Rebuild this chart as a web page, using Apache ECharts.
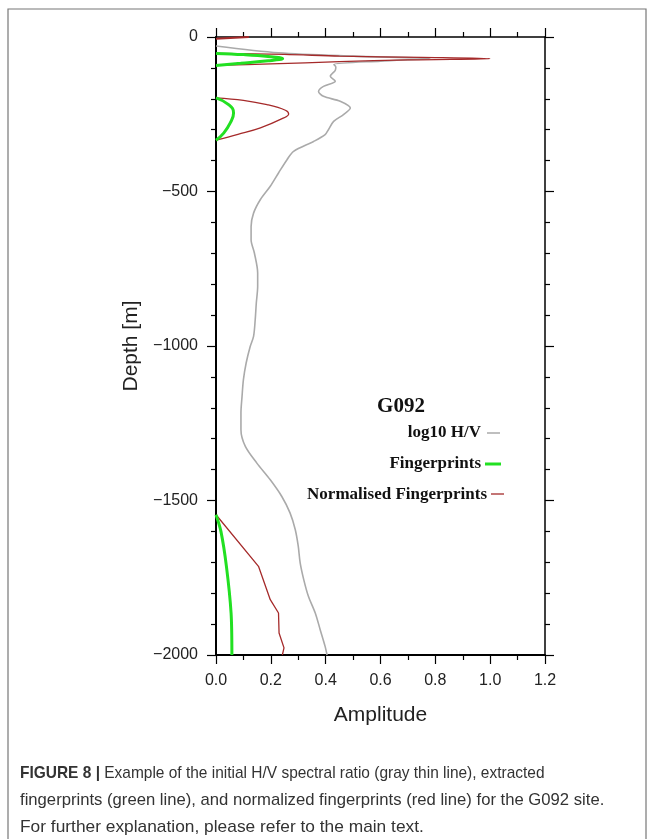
<!DOCTYPE html>
<html>
<head>
<meta charset="utf-8">
<script src="https://cdn.jsdelivr.net/npm/echarts@6/dist/echarts.min.js"></script>
<style>html,body{margin:0;padding:0;background:#fff;}#c{width:654px;height:839px;}</style>
</head>
<body>
<div id="c"></div>
<script>
// ---- data (amplitude, depth [m]) ----
const xTicks = [0, 0.2, 0.4, 0.6, 0.8, 1.0, 1.2];
const yTicks = [0, -500, -1000, -1500, -2000];

const grayDepth = [-29, -51, -62, -70, -78, -89, -97, -108, -127, -143, -160, -176, -192, -208, -230, -251, -273, -300, -316, -338, -370, -397, -440, -483, -526, -570, -613, -656, -699, -764, -807, -861, -915, -969, -1001, -1055, -1109, -1163, -1217, -1271, -1325, -1379, -1433, -1487, -1540, -1594, -1648, -1702, -1756, -1810, -1864, -1918, -1972, -2000];
const grayAmp   = [0, 0.228, 0.50, 0.78, 0.60, 0.43, 0.437, 0.435, 0.417, 0.435, 0.392, 0.374, 0.392, 0.453, 0.49, 0.465, 0.429, 0.41, 0.398, 0.356, 0.283, 0.259, 0.228, 0.198, 0.162, 0.137, 0.128, 0.128, 0.14, 0.152, 0.152, 0.147, 0.143, 0.137, 0.125, 0.11, 0.10, 0.095, 0.091, 0.091, 0.107, 0.149, 0.198, 0.24, 0.27, 0.289, 0.30, 0.307, 0.32, 0.337, 0.362, 0.38, 0.398, 0.405];

const greenTopDepth = [-53, -57, -63, -70, -77, -85, -92];
const greenTopAmp   = [0, 0.10, 0.19, 0.243, 0.19, 0.09, 0];
const greenMidDepth = [-197, -219, -246, -278, -311, -334];
const greenMidAmp   = [0, 0.046, 0.064, 0.052, 0.028, 0];
const greenLowDepth = [-1546, -1600, -1713, -1864, -2000];
const greenLowAmp   = [0, 0.018, 0.038, 0.055, 0.058];

const redSurfDepth = [0, -6];
const redSurfAmp   = [0.12, 0];
const redTopDepth = [-53, -56, -62, -66, -70, -74, -80, -87, -92];
const redTopAmp   = [0, 0.25, 0.45, 0.75, 1.0, 0.70, 0.45, 0.20, 0];
const redMidDepth = [-197, -205, -219, -237, -249, -262, -294, -315, -334];
const redMidAmp   = [0, 0.10, 0.186, 0.253, 0.265, 0.247, 0.162, 0.08, 0];
const redLowDepth = [-1546, -1713, -1821, -1864, -1929, -1977, -2000];
const redLowAmp   = [0, 0.155, 0.198, 0.228, 0.23, 0.248, 0.242];

const legendLabels = ['log10 H/V', 'Fingerprints', 'Normalised Fingerprints'];
const siteName = 'G092';

function pairs(a, d) { return a.map((v, i) => [v, d[i]]); }

const GRAY = '#aaaaaa', GREEN = '#22e022', RED = '#a52a2a';
const sans = "'Liberation Sans', Arial, Helvetica, sans-serif";
const serif = "'Liberation Serif', 'Times New Roman', serif";
const capFont = "17px 'Liberation Sans', Arial, sans-serif";

function lineSeries(data, color, width, smooth) {
  return { type: 'line', data: data, symbol: 'none', smooth: smooth, silent: true,
    lineStyle: { color: color, width: width }, z: 2 };
}

const tickStyle = { color: '#000', width: 1.2 };
const chart = echarts.init(document.getElementById('c'), null, { renderer: 'canvas' });
chart.setOption({
  animation: false,
  backgroundColor: '#fff',
  grid: { left: 216, top: 37, width: 329, height: 618, containLabel: false },
  xAxis: [
    { type: 'value', min: 0, max: 1.2, interval: 0.2, position: 'bottom',
      axisLine: { show: true, onZero: false, lineStyle: { color: '#000', width: 2 } },
      axisTick: { show: true, length: 9, lineStyle: tickStyle },
      minorTick: { show: true, splitNumber: 2, length: 5, lineStyle: tickStyle },
      splitLine: { show: false }, minorSplitLine: { show: false },
      axisLabel: { fontSize: 16, color: '#222', margin: 18, fontFamily: sans,
        formatter: v => v.toFixed(1) },
      name: 'Amplitude', nameLocation: 'middle', nameGap: 50,
      nameTextStyle: { fontSize: 21, color: '#222', fontFamily: sans } },
    { type: 'value', min: 0, max: 1.2, interval: 0.2, position: 'top',
      axisLine: { show: true, onZero: false, lineStyle: { color: '#000', width: 1.5 } },
      axisTick: { show: true, length: 9, lineStyle: tickStyle },
      minorTick: { show: true, splitNumber: 2, length: 5, lineStyle: tickStyle },
      splitLine: { show: false }, axisLabel: { show: false } }
  ],
  yAxis: [
    { type: 'value', min: -2000, max: 0, interval: 500, position: 'left',
      axisLine: { show: true, onZero: false, lineStyle: { color: '#000', width: 2 } },
      axisTick: { show: true, length: 9, lineStyle: tickStyle },
      minorTick: { show: true, splitNumber: 5, length: 5, lineStyle: tickStyle },
      splitLine: { show: false }, minorSplitLine: { show: false },
      axisLabel: { fontSize: 16, color: '#222', margin: 18, fontFamily: sans,
        formatter: v => String(v).replace('-', '\u2212') },
      name: 'Depth [m]', nameLocation: 'middle', nameGap: 72, nameRotate: 90,
      nameTextStyle: { fontSize: 21, color: '#222', fontFamily: sans } },
    { type: 'value', min: -2000, max: 0, interval: 500, position: 'right',
      axisLine: { show: true, onZero: false, lineStyle: { color: '#000', width: 1.5 } },
      axisTick: { show: true, length: 9, lineStyle: tickStyle },
      minorTick: { show: true, splitNumber: 5, length: 5, lineStyle: tickStyle },
      splitLine: { show: false }, axisLabel: { show: false } }
  ],
  series: [
    lineSeries(pairs(grayAmp, grayDepth), GRAY, 1.6, 0.3),
    lineSeries(pairs(redSurfAmp, redSurfDepth), RED, 2, false),
    lineSeries(pairs(redTopAmp, redTopDepth), RED, 1.3, 0.3),
    lineSeries(pairs(redMidAmp, redMidDepth), RED, 1.3, 0.4),
    lineSeries(pairs(redLowAmp, redLowDepth), RED, 1.3, false),
    lineSeries(pairs(greenTopAmp, greenTopDepth), GREEN, 3, 0.4),
    lineSeries(pairs(greenMidAmp, greenMidDepth), GREEN, 3, 0.5),
    lineSeries(pairs(greenLowAmp, greenLowDepth), GREEN, 3, 0.3)
  ],
  graphic: [
    { type: 'rect', shape: { x: 8, y: 9, width: 638, height: 845 }, silent: true,
      style: { fill: 'none', stroke: '#777', lineWidth: 1.2 }, z: -1 },
    { type: 'text', x: 401, y: 407, style: { text: siteName, font: 'bold 21px ' + serif,
      fill: '#111', align: 'center', verticalAlign: 'middle' } },
    { type: 'text', x: 481, y: 433, style: { text: legendLabels[0], font: 'bold 17px ' + serif,
      fill: '#111', align: 'right', verticalAlign: 'middle' } },
    { type: 'line', shape: { x1: 487, y1: 433, x2: 500, y2: 433 }, style: { stroke: GRAY, lineWidth: 1.5 } },
    { type: 'text', x: 481, y: 464, style: { text: legendLabels[1], font: 'bold 17px ' + serif,
      fill: '#111', align: 'right', verticalAlign: 'middle' } },
    { type: 'line', shape: { x1: 485, y1: 464, x2: 501, y2: 464 }, style: { stroke: GREEN, lineWidth: 3 } },
    { type: 'text', x: 487, y: 495, style: { text: legendLabels[2], font: 'bold 17px ' + serif,
      fill: '#111', align: 'right', verticalAlign: 'middle' } },
    { type: 'line', shape: { x1: 491, y1: 494, x2: 504, y2: 494 }, style: { stroke: RED, lineWidth: 1.3 } },
    { type: 'text', x: 20, y: 773, scaleX: 0.91, style: { verticalAlign: 'middle',
      rich: { b: { font: 'bold ' + capFont, fill: '#333' }, r: { font: capFont, fill: '#333' } },
      text: '{b|FIGURE 8 |}{r| Example of the initial H/V spectral ratio (gray thin line), extracted}' } },
    { type: 'text', x: 20, y: 800, scaleX: 0.98, style: { verticalAlign: 'middle',
      font: capFont, fill: '#333',
      text: 'fingerprints (green line), and normalized fingerprints (red line) for the G092 site.' } },
    { type: 'text', x: 20, y: 827, scaleX: 1.02, style: { verticalAlign: 'middle',
      font: capFont, fill: '#333',
      text: 'For further explanation, please refer to the main text.' } }
  ]
});
</script>
</body>
</html>
